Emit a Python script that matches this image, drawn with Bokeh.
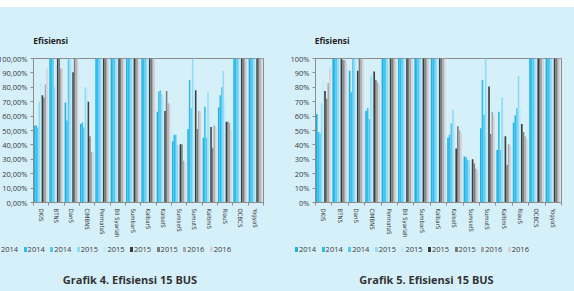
from bokeh.plotting import figure
from bokeh.models import ColumnDataSource, FixedTicker, Range1d, Div
from bokeh.layouts import row, column
from bokeh.embed import file_html
from bokeh.resources import INLINE

# Banks (BUS) on the x axis
banks = ["DKIS", "BTNS", "DanS", "CIMBNS", "PermataS", "BII Syariah", "SumbarS",
         "KalbarS", "KalselS", "SumselS", "SumutS", "KaltimS", "RiauS", "OCBCS", "YogyaS"]

# Nine periods shown per bank
period_labels = ["2014", "2014", "2014", "2015", "2015", "2015", "2015", "2016", "2016"]
period_colors = ["#1fb1e6", "#2fbcee", "#56c9f1", "#8fdcf6", "#c2ebf8",
                 "#3c3c3c", "#7b7b7b", "#a9a9a9", "#d6d2d8"]

# Grafik 4: efficiency (%) per period, bars capped at 100
g4_p1 = [53.5, 100, 69.5, 54.5, 100, 100, 100, 100, 63, 42.5, 51, 45, 66, 100, 100]
g4_p2 = [53.5, 100, 57, 55.5, 100, 100, 100, 100, 77, 47, 85, 66.5, 74.5, 100, 100]
g4_p3 = [52, 100, 100, 52, 100, 100, 100, 100, 78, 47, 65.5, 45, 80, 100, 100]
g4_p4 = [70, 80, 100, 80, 100, 100, 100, 100, 75, 40, 100, 76.5, 91.5, 100, 100]
g4_p5 = [83, 100, 100, 79, 100, 100, 100, 100, 72, 38, 83, 60, 70, 100, 100]
g4_p6 = [74.5, 100, 90.5, 70, 100, 100, 100, 100, 63.5, 40.5, 78, 52.5, 56, 100, 100]
g4_p7 = [73, 100, 100, 46, 100, 100, 100, 100, 77.5, 40.5, 51, 38, 56, 100, 100]
g4_p8 = [82, 93, 100, 35, 100, 100, 100, 100, 69, 29, 63.5, 53.5, 55, 100, 100]
g4_p9 = [93, 93, 100, 35, 100, 100, 100, 100, 68, 28, 63, 53, 50, 100, 100]

# Grafik 5: efficiency (%) per period
g5_p1 = [61.5, 100, 91.5, 63.5, 100, 100, 100, 100, 45, 32, 51.5, 36.5, 55.5, 100, 100]
g5_p2 = [49, 100, 76.5, 65.5, 100, 100, 100, 100, 47, 31.5, 85, 63, 60.5, 100, 100]
g5_p3 = [48, 100, 100, 58, 100, 100, 100, 100, 55, 29.5, 61, 36.5, 65.5, 100, 100]
g5_p4 = [69, 100, 100, 88, 100, 100, 100, 100, 64.5, 29, 100, 73, 88, 100, 100]
g5_p5 = [85, 100, 100, 90, 100, 100, 100, 100, 56, 19, 76, 47, 66, 100, 100]
g5_p6 = [77.5, 100, 91.5, 91, 100, 100, 100, 100, 37.5, 30, 80.5, 46, 54.5, 100, 100]
g5_p7 = [72, 99, 100, 85, 100, 100, 100, 100, 53, 27, 47.5, 26, 49, 100, 100]
g5_p8 = [83, 99, 100, 83.5, 100, 100, 100, 100, 50, 23.5, 63, 40.5, 46, 100, 100]
g5_p9 = [94, 98, 100, 82, 100, 100, 100, 100, 48, 22, 60, 39, 44, 100, 100]

# y tick labels
y_ticks = [0, 10, 20, 30, 40, 50, 60, 70, 80, 90, 100]
g4_ytick_labels = ["0,00%", "10,00%", "20,00%", "30,00%", "40,00%", "50,00%",
                   "60,00%", "70,00%", "80,00%", "90,00%", "100,00%"]
g5_ytick_labels = ["0%", "10%", "20%", "30%", "40%", "50%",
                   "60%", "70%", "80%", "90%", "100%"]

BG = "#d6f0fa"
AXIS = "#8c8c8c"
FONT = "Open Sans"
NARROW = "DejaVu Sans Condensed, Roboto"
HEAD_H = 44
CHART_H = 193
FOOT_H = 47
LEGEND_PITCH = 26.6


def strip(width, height, inner_html):
    # plain HTML strip used for the heading, legend and caption
    html = (f'<div style="position:relative;width:{width}px;height:{height}px;'
            f'overflow:hidden;background:{BG};font-family:\'{FONT}\';">'
            f'{inner_html}</div>')
    return Div(text=html, width=width, height=height, margin=0,
               styles={"background-color": BG})


def header(width, text_x):
    inner = (f'<div style="position:absolute;left:{text_x}px;top:29px;'
             f'line-height:10px;font-size:8.5px;font-weight:bold;color:#1e1e1e;'
             f'white-space:nowrap;">Efisiensi</div>')
    return strip(width, HEAD_H, inner)


def footer(width, legend_x, caption, caption_x):
    parts = []
    for k, (lab, col) in enumerate(zip(period_labels, period_colors)):
        x0 = legend_x + LEGEND_PITCH * k
        parts.append(f'<div style="position:absolute;left:{x0:.1f}px;top:2.5px;'
                     f'width:3px;height:5px;background:{col};"></div>')
        parts.append(f'<div style="position:absolute;left:{x0 + 4:.1f}px;top:0px;'
                     f'line-height:10px;font-size:7.5px;color:#3a3a3a;'
                     f'white-space:nowrap;">{lab}</div>')
    parts.append(f'<div style="position:absolute;left:0px;width:{2 * caption_x:.1f}px;'
                 f'top:28.5px;line-height:13px;font-size:11px;font-weight:bold;'
                 f'color:#333333;text-align:center;white-space:nowrap;">{caption}</div>')
    return strip(width, FOOT_H, "".join(parts))


def bar_chart(series, ytick_labels, border_left, border_right, frame_w):
    width = border_left + frame_w + border_right
    p = figure(width=width, height=CHART_H, x_range=Range1d(0, len(banks)),
               y_range=Range1d(0, 100), output_backend="svg", toolbar_location=None,
               min_border_left=border_left, min_border_right=border_right,
               min_border_top=7, min_border_bottom=CHART_H - 7 - 144)
    p.title = None
    p.background_fill_color = BG
    p.border_fill_color = BG
    p.outline_line_color = AXIS
    p.xgrid.visible = False
    p.ygrid.visible = False

    for k, vals in enumerate(series):
        xs = [i + 0.08 + 0.1 * k for i in range(len(banks))]
        src = ColumnDataSource(dict(x=xs, top=vals))
        p.vbar(x="x", top="top", width=0.1, bottom=0, source=src,
               fill_color=period_colors[k], line_color=None)

    # y axis
    p.yaxis.ticker = FixedTicker(ticks=y_ticks)
    p.yaxis.major_label_overrides = {t: s for t, s in zip(y_ticks, ytick_labels)}
    p.yaxis.major_tick_out = 3
    p.yaxis.major_tick_in = 0
    p.yaxis.minor_tick_line_color = None
    p.yaxis.axis_line_color = AXIS
    p.yaxis.major_tick_line_color = AXIS
    p.yaxis.major_label_standoff = 3
    p.yaxis.major_label_text_font = FONT
    p.yaxis.major_label_text_font_size = "7.5px"
    p.yaxis.major_label_text_color = "#3a3a3a"

    # x axis: labels at bank centres, ticks on bank boundaries
    centers = [i + 0.5 for i in range(len(banks))]
    p.xaxis.ticker = FixedTicker(ticks=centers, minor_ticks=list(range(len(banks) + 1)))
    p.xaxis.major_label_overrides = {c: b for c, b in zip(centers, banks)}
    p.xaxis.major_label_orientation = "vertical"
    p.xaxis.major_tick_out = 0
    p.xaxis.major_tick_in = 0
    p.xaxis.minor_tick_out = 3
    p.xaxis.minor_tick_in = 0
    p.xaxis.minor_tick_line_color = AXIS
    p.xaxis.axis_line_color = AXIS
    p.xaxis.major_label_standoff = 3
    p.xaxis.major_label_text_font = NARROW
    p.xaxis.major_label_text_font_size = "6px"
    p.xaxis.major_label_text_color = "#3a3a3a"
    return p


left_chart = bar_chart([g4_p1, g4_p2, g4_p3, g4_p4, g4_p5, g4_p6, g4_p7, g4_p8, g4_p9],
                       g4_ytick_labels, 40, 24, 230)
right_chart = bar_chart([g5_p1, g5_p2, g5_p3, g5_p4, g5_p5, g5_p6, g5_p7, g5_p8, g5_p9],
                        g5_ytick_labels, 28, 13, 246)

left_col = column(header(294, 40.3), left_chart,
                  footer(294, 4, "Grafik 4. Efisiensi 15 BUS", 137))
right_col = column(header(287, 27.7), right_chart,
                   footer(287, 8, "Grafik 5. Efisiensi 15 BUS", 139.5))

page = row(left_col, right_col, margin=(7, 0, 0, -7),
           styles={"background-color": BG})

open("out.html", "w").write(file_html(page, INLINE))
